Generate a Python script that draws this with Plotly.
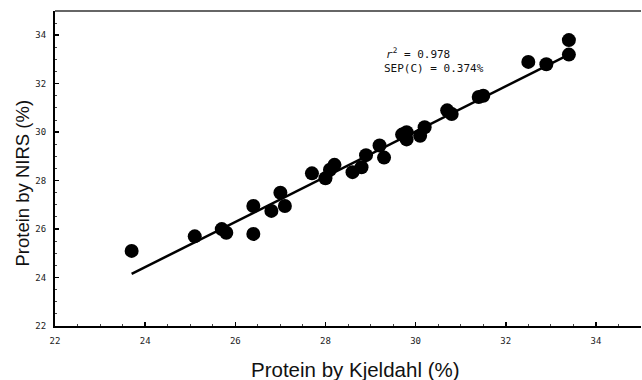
import plotly.graph_objects as go

kjeldahl = [23.7, 25.1, 25.7, 25.8, 26.4, 26.4, 26.8, 27.0, 27.1, 27.7, 28.0, 28.1,
            28.2, 28.6, 28.8, 28.9, 29.2, 29.3, 29.7, 29.8, 29.8, 30.1, 30.2, 30.7,
            30.8, 31.4, 31.5, 32.5, 32.9, 33.4, 33.4]
nirs = [25.1, 25.7, 26.0, 25.85, 26.95, 25.8, 26.75, 27.5, 26.95, 28.3, 28.1, 28.45,
        28.65, 28.35, 28.55, 29.05, 29.45, 28.95, 29.9, 30.0, 29.7, 29.85, 30.2, 30.9,
        30.75, 31.45, 31.5, 32.9, 32.8, 33.8, 33.2]
fit_x = [23.7, 33.4]
fit_y = [24.15, 33.2]
tick_vals = [22, 24, 26, 28, 30, 32, 34]
tick_text = ["22", "24", "26", "28", "30", "32", "34"]

W, H = 642, 380
L, R, T, B = 55, 1, 11, 54
pw, ph = W - L - R, H - T - B

fig = go.Figure()
fig.add_trace(go.Scatter(x=fit_x, y=fit_y, mode="lines",
                         line=dict(color="black", width=2.5), showlegend=False))
fig.add_trace(go.Scatter(x=kjeldahl, y=nirs, mode="markers",
                         marker=dict(color="black", size=14, line=dict(width=0)),
                         showlegend=False))

tickfont = dict(family="DejaVu Sans Mono", size=9, color="#222")
axis_common = dict(
    showgrid=False, zeroline=False, showline=True, linecolor="black", linewidth=2,
    ticks="inside", ticklen=4, tickwidth=1.5, tickcolor="black",
    tickvals=tick_vals, ticktext=tick_text, tickfont=tickfont, automargin=False,
    minor=dict(ticks="inside", ticklen=2, tickwidth=1, tickcolor="#444", dtick=0.5),
)
fig.update_layout(
    width=W, height=H,
    margin=dict(l=L, r=R, t=T, b=B, autoexpand=False),
    plot_bgcolor="white", paper_bgcolor="white",
    hovermode=False,
    xaxis=dict(range=[22, 35], ticklabelstandoff=5, **axis_common),
    yaxis=dict(range=[22, 35], ticklabelstandoff=5, **axis_common),
    shapes=[dict(type="line", xref="paper", yref="paper", x0=0, x1=1, y0=1, y1=1,
                 line=dict(color="#333", width=1.5))],
    annotations=[
        dict(x=(384 - L) / pw, y=(H - B - 54) / ph, xref="paper", yref="paper",
             xanchor="left", yanchor="middle",
             text="<i>r</i><sup>2</sup> = 0.978", showarrow=False,
             font=dict(family="DejaVu Sans Mono", size=11, color="#111")),
        dict(x=(382 - L) / pw, y=(H - B - 68) / ph, xref="paper", yref="paper",
             xanchor="left", yanchor="middle",
             text="SEP(C) = 0.374%", showarrow=False,
             font=dict(family="DejaVu Sans Mono", size=11, color="#111")),
        dict(x=(355 - L) / pw, y=(H - B - 369) / ph, xref="paper", yref="paper",
             xanchor="center", yanchor="middle", text="Protein by Kjeldahl (%)",
             showarrow=False, font=dict(family="Liberation Sans", size=20.5, color="#111")),
        dict(x=(22 - L) / pw, y=(H - B - 183.5) / ph, xref="paper", yref="paper",
             xanchor="center", yanchor="middle", text="Protein by NIRS (%)",
             textangle=-90, showarrow=False,
             font=dict(family="Liberation Sans", size=18.5, color="#111")),
    ],
)
fig.write_html("out.html", config={"displayModeBar": False, "staticPlot": True},
               post_script="document.body.style.margin='0';document.body.style.overflow='hidden';")
